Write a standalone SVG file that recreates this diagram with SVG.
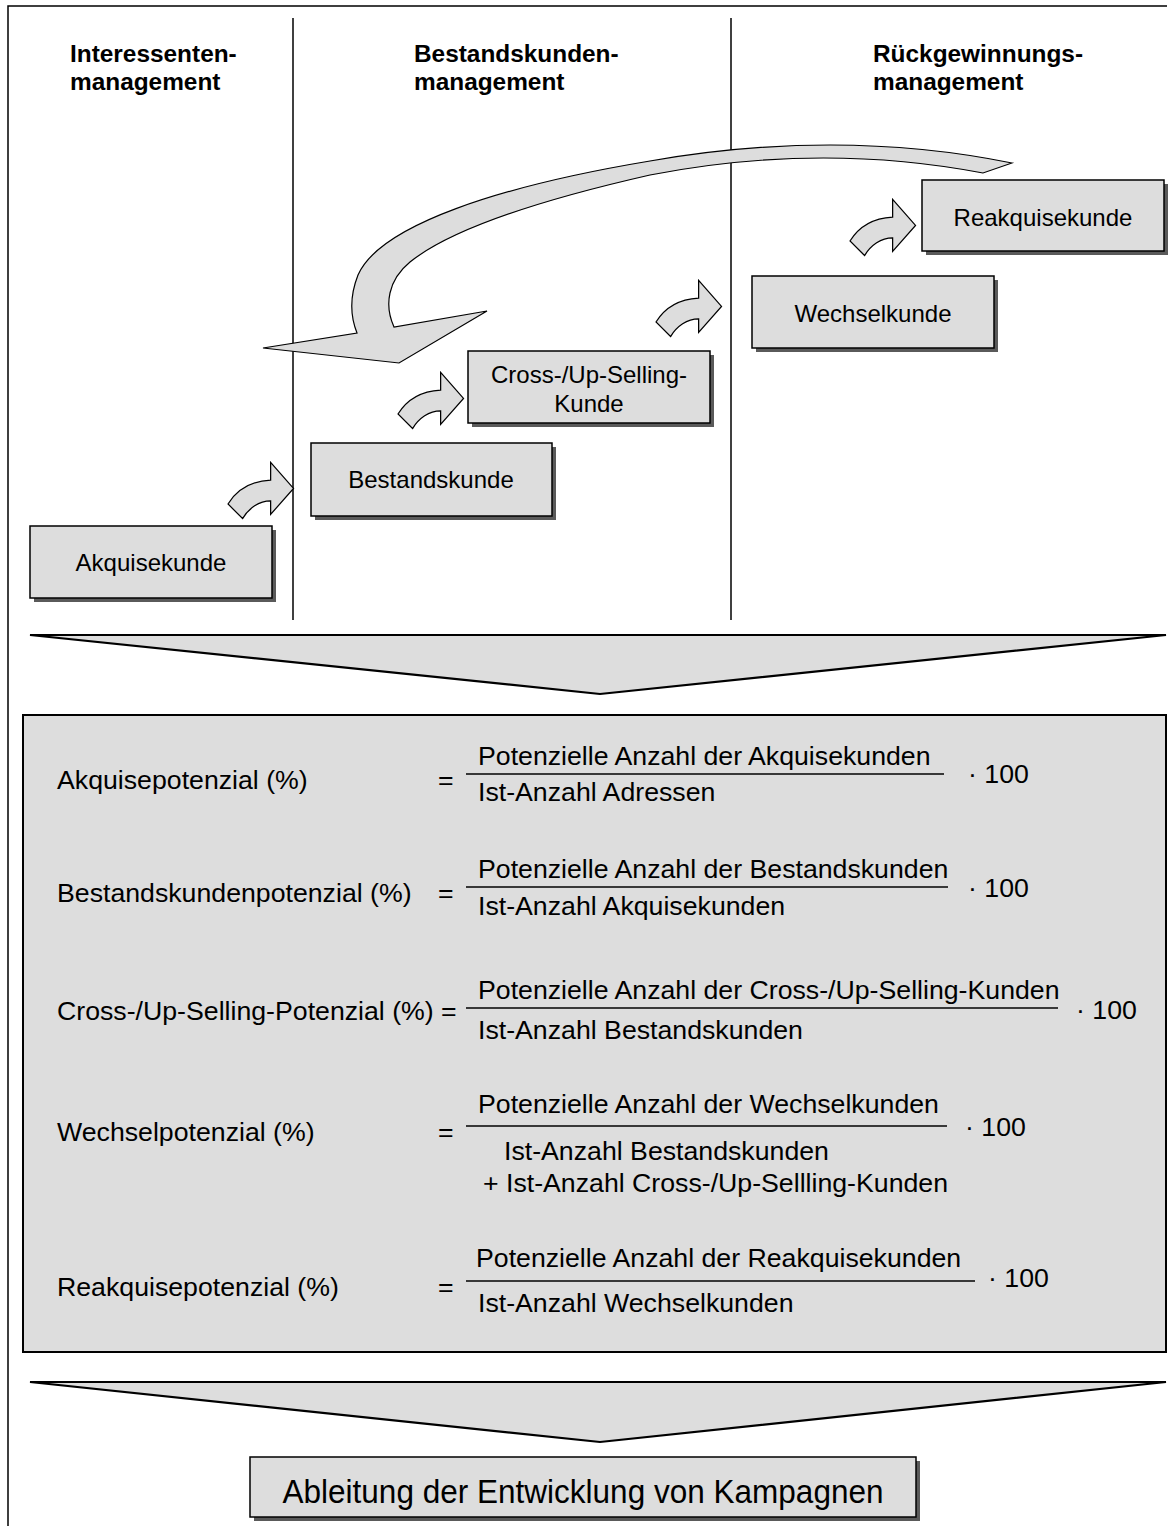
<svg xmlns="http://www.w3.org/2000/svg" xmlns:xlink="http://www.w3.org/1999/xlink" width="1176" height="1526" viewBox="0 0 1176 1526">
  <style>
    text { font-family: "Liberation Sans", Arial, sans-serif; fill: #000; }
    .hdr { font-size: 24.4px; font-weight: bold; }
    .lbl { font-size: 24px; text-anchor: middle; }
    .f { font-size: 26.7px; }
    .box { fill: #dddddd; stroke: #000; stroke-width: 1.5; }
    .shadow { fill: #5a5a5a; }
    .rule { stroke: #000; stroke-width: 1.5; fill: none; }
    .frac { stroke: #000; stroke-width: 1.6; }
    .bend { fill: #dddddd; stroke: #000; stroke-width: 1.2; stroke-linejoin: miter; }
    .chev { fill: #dddddd; stroke: #000; stroke-width: 2.2; stroke-linejoin: miter; }
  </style>
  <defs>
    <!-- small bent block arrow, origin at lower-left tail corner -->
    <path id="bent-arrow" d="M 0,0 C 8,-13 22,-22 41,-23 L 41,-40 L 63,-15 L 41,10 L 41,-3 C 30,-3 20,4 14,14 Z"/>
  </defs>

  <rect width="1176" height="1526" fill="#fff"/>

  <!-- outer frame (top and left edges) -->
  <path class="rule" d="M 8,1526 L 8,6 L 1167,6" stroke-width="2"/>

  <!-- column dividers -->
  <line class="rule" x1="293" y1="18" x2="293" y2="620"/>
  <line class="rule" x1="731" y1="18" x2="731" y2="620"/>

  <!-- column headings -->
  <g id="hdr-interessenten">
    <text class="hdr" x="70" y="62">Interessenten-</text>
    <text class="hdr" x="70" y="90">management</text>
  </g>
  <g id="hdr-bestand">
    <text class="hdr" x="414" y="62">Bestandskunden-</text>
    <text class="hdr" x="414" y="90">management</text>
  </g>
  <g id="hdr-rueck">
    <text class="hdr" x="873" y="62">Rückgewinnungs-</text>
    <text class="hdr" x="873" y="90">management</text>
  </g>

  <!-- connectors: step arrows and the return arrow -->
  <g id="connectors">
    <path id="return-arrow" class="bend" d="M 1012,163 Q 840,128 650,161 C 500,186 380,225 358,275 C 349,298 351,318 357,333 L 263,348 L 399,363 L 487,311 L 394,327 C 384,305 388,280 410,262 C 450,230 540,200 650,175 Q 820,142 983,173 Z"/>
    <use xlink:href="#bent-arrow" class="bend" transform="translate(228,504) scale(1.04)"/>
    <use xlink:href="#bent-arrow" class="bend" transform="translate(398,414) scale(1.04)"/>
    <use xlink:href="#bent-arrow" class="bend" transform="translate(656,322) scale(1.04)"/>
    <use xlink:href="#bent-arrow" class="bend" transform="translate(850,241) scale(1.04)"/>
  </g>

  <!-- customer stages -->
  <g id="akquisekunde">
    <rect class="shadow" x="34" y="530" width="242" height="72"/>
    <rect class="box" x="30" y="526" width="242" height="72"/>
    <text class="lbl" x="151" y="571">Akquisekunde</text>
  </g>
  <g id="bestandskunde">
    <rect class="shadow" x="315" y="447" width="241" height="73"/>
    <rect class="box" x="311" y="443" width="241" height="73"/>
    <text class="lbl" x="431" y="488">Bestandskunde</text>
  </g>
  <g id="cross-up-selling-kunde">
    <rect class="shadow" x="472" y="355" width="242" height="72"/>
    <rect class="box" x="468" y="351" width="242" height="72"/>
    <text class="lbl" x="589" y="383">Cross-/Up-Selling-</text>
    <text class="lbl" x="589" y="412">Kunde</text>
  </g>
  <g id="wechselkunde">
    <rect class="shadow" x="756" y="280" width="242" height="72"/>
    <rect class="box" x="752" y="276" width="242" height="72"/>
    <text class="lbl" x="873" y="322">Wechselkunde</text>
  </g>
  <g id="reakquisekunde">
    <rect class="shadow" x="926" y="184" width="242" height="71"/>
    <rect class="box" x="922" y="180" width="242" height="71"/>
    <text class="lbl" x="1043" y="226">Reakquisekunde</text>
  </g>

  <!-- funnel into the metrics -->
  <polygon id="funnel-1" class="chev" points="30,635 1166,635 600,694"/>

  <!-- potential metrics -->
  <g id="metrics">
    <rect x="23" y="715" width="1143" height="637" fill="#dddddd" stroke="#000" stroke-width="2"/>

    <text class="f" x="57" y="789">Akquisepotenzial (%)</text>
    <text class="f" x="438" y="789">=</text>
    <text class="f" x="478" y="765">Potenzielle Anzahl der Akquisekunden</text>
    <line class="frac" x1="466" y1="774" x2="944" y2="774"/>
    <text class="f" x="478" y="801">Ist-Anzahl Adressen</text>
    <text class="f" x="968" y="783">· 100</text>

    <text class="f" x="57" y="902">Bestandskundenpotenzial (%)</text>
    <text class="f" x="438" y="902">=</text>
    <text class="f" x="478" y="878">Potenzielle Anzahl der Bestandskunden</text>
    <line class="frac" x1="466" y1="887" x2="948" y2="887"/>
    <text class="f" x="478" y="915">Ist-Anzahl Akquisekunden</text>
    <text class="f" x="968" y="897">· 100</text>

    <text class="f" x="57" y="1020">Cross-/Up-Selling-Potenzial (%) =</text>
    <text class="f" x="478" y="999">Potenzielle Anzahl der Cross-/Up-Selling-Kunden</text>
    <line class="frac" x1="466" y1="1008" x2="1058" y2="1008"/>
    <text class="f" x="478" y="1039">Ist-Anzahl Bestandskunden</text>
    <text class="f" x="1076" y="1019">· 100</text>

    <text class="f" x="57" y="1141">Wechselpotenzial (%)</text>
    <text class="f" x="438" y="1141">=</text>
    <text class="f" x="478" y="1113">Potenzielle Anzahl der Wechselkunden</text>
    <line class="frac" x1="466" y1="1126" x2="947" y2="1126"/>
    <text class="f" x="504" y="1160">Ist-Anzahl Bestandskunden</text>
    <text class="f" x="483" y="1192">+ Ist-Anzahl Cross-/Up-Sellling-Kunden</text>
    <text class="f" x="965" y="1136">· 100</text>

    <text class="f" x="57" y="1296">Reakquisepotenzial (%)</text>
    <text class="f" x="438" y="1296">=</text>
    <text class="f" x="476" y="1267">Potenzielle Anzahl der Reakquisekunden</text>
    <line class="frac" x1="466" y1="1281" x2="975" y2="1281"/>
    <text class="f" x="478" y="1312">Ist-Anzahl Wechselkunden</text>
    <text class="f" x="988" y="1287">· 100</text>
  </g>

  <!-- funnel into the outcome -->
  <polygon id="funnel-2" class="chev" points="30,1382 1166,1382 600,1442"/>

  <g id="kampagnen">
    <rect class="shadow" x="254" y="1461" width="666" height="60"/>
    <rect class="box" x="250" y="1457" width="666" height="60"/>
    <text x="583" y="1503" font-size="34" text-anchor="middle" textLength="601" lengthAdjust="spacingAndGlyphs">Ableitung der Entwicklung von Kampagnen</text>
  </g>
</svg>
